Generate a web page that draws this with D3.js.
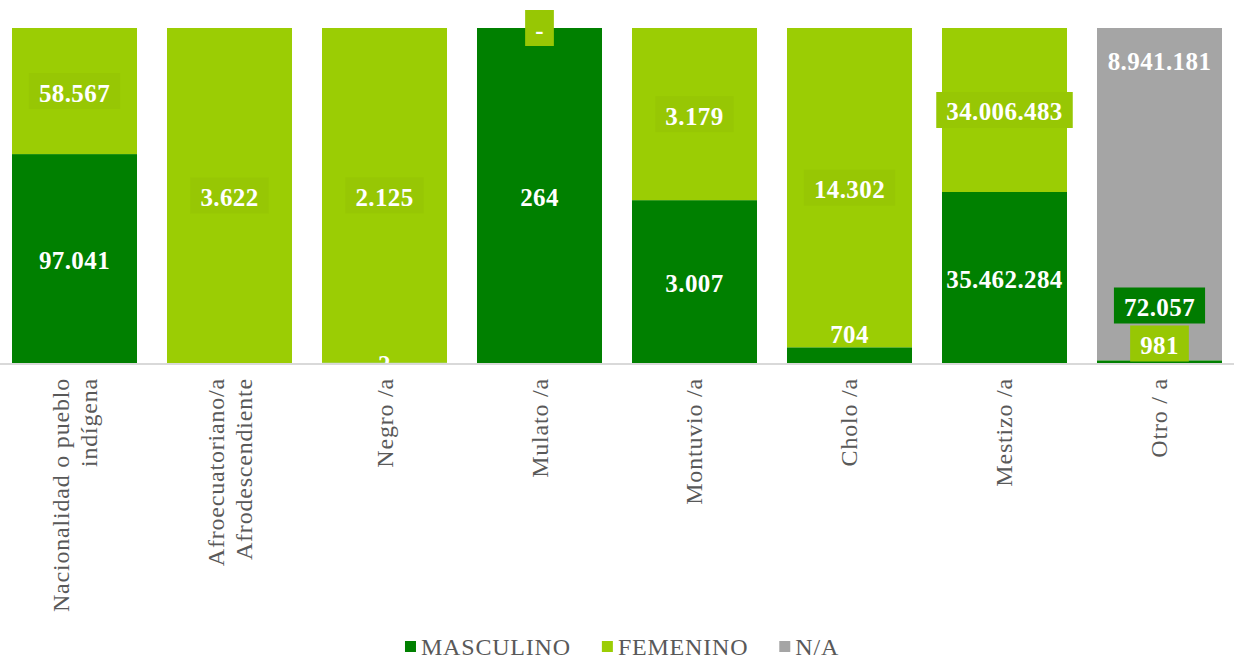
<!DOCTYPE html>
<html>
<head>
<meta charset="utf-8">
<script src="https://cdn.jsdelivr.net/npm/d3@7"></script>
<style>
  body { margin: 0; background: #fff; }
  svg { display: block; }
  .cat-label { font-family: "Liberation Serif", "Times New Roman", serif; font-size: 24px; fill: #595959; letter-spacing: 0.8px; }
  .val-label { font-family: "Liberation Serif", "Times New Roman", serif; font-size: 25px; font-weight: bold; fill: #fff; letter-spacing: 0.4px; }
  .legend-text { font-family: "Liberation Serif", "Times New Roman", serif; font-size: 24px; fill: #595959; letter-spacing: 0.8px; }
</style>
</head>
<body>
<div id="chart"></div>
<script>

// data
var categories = ["Nacionalidad o pueblo indígena", "Afroecuatoriano/a Afrodescendiente", "Negro /a",
    "Mulato /a", "Montuvio /a", "Cholo /a", "Mestizo /a", "Otro / a"];
var categoryLines = [["Nacionalidad o pueblo", "indígena"], ["Afroecuatoriano/a", "Afrodescendiente"], ["Negro /a"],
    ["Mulato /a"], ["Montuvio /a"], ["Cholo /a"], ["Mestizo /a"], ["Otro / a"]];
var seriesNames = ["MASCULINO", "FEMENINO", "N/A"];
var masculino = [97041, null, 2, 264, 3007, 704, 35462284, 72057];
var femenino = [58567, 3622, 2125, 0, 3179, 14302, 34006483, 981];
var noAplica = [null, null, null, null, null, null, null, 8941181];

var colors = ["#008000", "#9BCD04", "#A5A5A5"];

var width = 1234, height = 661;
var margin = {top: 28, bottom: 298};
var baseY = height - margin.bottom; // 363

var svg = d3.select("#chart").append("svg")
    .attr("width", width)
    .attr("height", height);

var rows = categories.map(function(c, i) {
    return {cat: c, MASCULINO: masculino[i] || 0, FEMENINO: femenino[i] || 0, "N/A": noAplica[i] || 0,
        raw: [masculino[i], femenino[i], noAplica[i]]};
});

var x = d3.scaleBand()
    .domain(categories)
    .range([0, width])
    .paddingInner(0.1935)
    .paddingOuter(0.0774);

var y = d3.scaleLinear()
    .domain([0, 1])
    .range([baseY, margin.top]);

var stacked = d3.stack()
    .keys(seriesNames)
    .offset(d3.stackOffsetExpand)(rows);

// bars
svg.selectAll(".series")
    .data(stacked)
    .enter().append("g")
    .attr("class", "series")
    .attr("fill", function(d, i) { return colors[i]; })
    .selectAll("rect")
    .data(function(d) { return d; })
    .enter().append("rect")
    .attr("x", function(d) { return x(d.data.cat); })
    .attr("width", x.bandwidth())
    .attr("y", function(d) { return y(d[1]); })
    .attr("height", function(d) { return y(d[0]) - y(d[1]); });

// category axis line
svg.append("line")
    .attr("x1", 0).attr("x2", width)
    .attr("y1", baseY + 1).attr("y2", baseY + 1)
    .attr("stroke", "#D9D9D9")
    .attr("stroke-width", 2);

// category labels (rotated)
var catG = svg.selectAll(".cat")
    .data(categories)
    .enter().append("g")
    .attr("transform", function(d) {
        return "translate(" + (x(d) + x.bandwidth() / 2) + "," + (baseY + 15) + ") rotate(-90)";
    });

catG.each(function(d, i) {
    var lines = categoryLines[i];
    var lh = 28;
    d3.select(this).selectAll("text")
        .data(lines)
        .enter().append("text")
        .attr("class", "cat-label")
        .attr("text-anchor", "end")
        .attr("dominant-baseline", "central")
        .attr("x", 0)
        .attr("y", function(l, j) { return (j - (lines.length - 1) / 2) * lh; })
        .text(function(l) { return l; });
});

// value labels
var fmt = d3.formatLocale({decimal: ",", thousands: ".", grouping: [3], currency: ["", ""]}).format(",.0f");
function labelText(v) { return v === 0 ? "-" : fmt(v); }

var boxH = 36;
var labels = [];
stacked.forEach(function(s, si) {
    s.forEach(function(d, ci) {
        var v = d.data.raw[si];
        if (v === null || v === undefined) return;
        var top = y(d[1]), bot = y(d[0]);
        var cy = (top + bot) / 2;
        if (seriesNames[si] == "N/A") cy = top + 31; // inside end
        // a short segment at the base: label sits just above it
        if (cy + 15 > baseY && bot - top > 5) cy = top - 15;
        labels.push({si: si, ci: ci, cat: d.data.cat, text: labelText(v), cy: cy, box: si == 1});
    });
});

// labels that collide in one bar get stacked up from the base, with boxes
categories.forEach(function(c) {
    var group = labels.filter(function(l) { return l.cat == c; });
    var clash = group.filter(function(a) {
        return group.some(function(b) { return a !== b && Math.abs(a.cy - b.cy) < boxH; });
    });
    if (clash.length > 1) {
        clash.sort(function(a, b) { return b.si - a.si; });
        var bottom = baseY - 1;
        clash.forEach(function(l) {
            l.cy = bottom - boxH / 2 - 0.5;
            l.box = true;
            bottom = bottom - boxH - 2;
        });
    }
});

svg.append("clipPath").attr("id", "plot-clip")
    .append("rect").attr("x", 0).attr("y", 0).attr("width", width).attr("height", baseY);

var labG = svg.append("g").attr("clip-path", "url(#plot-clip)")
    .selectAll(".lab")
    .data(labels)
    .enter().append("g")
    .attr("class", "lab")
    .attr("transform", function(d) {
        return "translate(" + (x(d.cat) + x.bandwidth() / 2) + "," + d.cy + ")";
    });

labG.append("rect").attr("class", "lab-box");
labG.append("text")
    .attr("class", "val-label")
    .attr("text-anchor", "middle")
    .attr("dominant-baseline", "central")
    .attr("y", 2)
    .text(function(d) { return d.text; });

labG.each(function(d) {
    var g = d3.select(this);
    if (!d.box) { g.select("rect").remove(); return; }
    var w = g.select("text").node().getComputedTextLength();
    g.select("rect")
        .attr("x", -w / 2 - 10)
        .attr("y", -boxH / 2)
        .attr("width", w + 20)
        .attr("height", boxH)
        .attr("fill", d3.color(colors[d.si]).darker(0.08));
});

// legend
var legend = svg.append("g").attr("class", "legend");
var lx = 0;
seriesNames.forEach(function(s, i) {
    var item = legend.append("g").attr("transform", "translate(" + lx + ",0)");
    item.append("rect")
        .attr("x", 0).attr("y", -6)
        .attr("width", 11).attr("height", 11)
        .attr("fill", colors[i]);
    var t = item.append("text")
        .attr("class", "legend-text")
        .attr("x", 16)
        .attr("y", 8)
        .text(s);
    lx += 16 + t.node().getComputedTextLength() + 31;
});
lx -= 31;
legend.attr("transform", "translate(" + (622 - lx / 2) + ",647)");

</script>
</body>
</html>
